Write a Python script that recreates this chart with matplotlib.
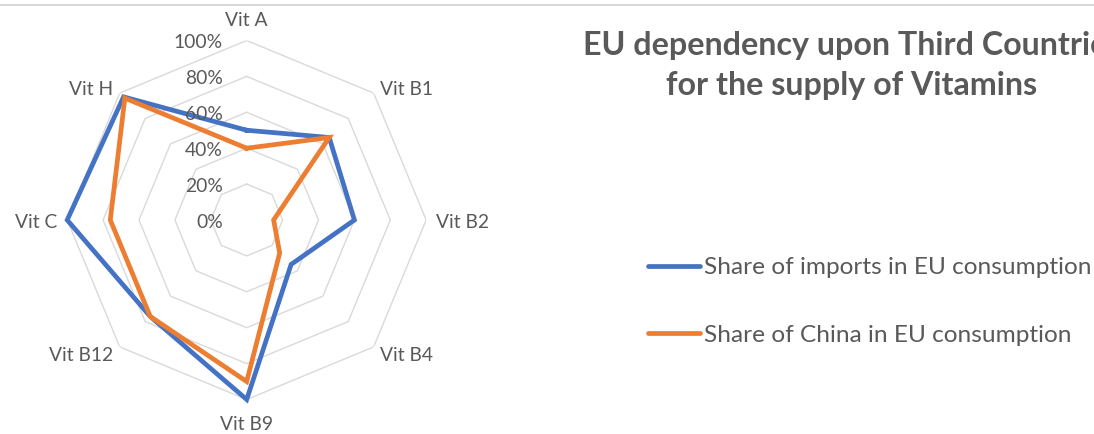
import numpy as np
import matplotlib
matplotlib.use('Agg')
import matplotlib.pyplot as plt
from matplotlib.lines import Line2D

# ---------------- data ----------------
categories = ["Vit A", "Vit B1", "Vit B2", "Vit B4", "Vit B9", "Vit B12", "Vit C", "Vit H"]
imports_share = [50, 65, 60, 35, 100, 76, 100, 97]
china_share = [40, 65, 15, 26, 90, 76, 76, 96]
series_names = ["Share of imports in EU consumption", "Share of China in EU consumption"]
radial_ticks = [0, 20, 40, 60, 80, 100]
radial_tick_labels = ["0%", "20%", "40%", "60%", "80%", "100%"]
title_lines = ["EU dependency upon Third Countries", "for the supply of Vitamins"]

# ---------------- style ----------------
W, H, DPI = 1094, 435, 100
FONT = ['Lato', 'DejaVu Sans']
GRAY = '#595959'
GRID = '#d9d9d9'
BLUE = '#4472C4'
ORANGE = '#ED7D31'
LW = 3.4

plt.rcParams['font.family'] = FONT
fig = plt.figure(figsize=(W / DPI, H / DPI), dpi=DPI)
fig.patch.set_facecolor('white')
renderer = fig.canvas.get_renderer()


def fy(y):
    return 1 - y / H


def fit(t, target):
    bb = t.get_window_extent(renderer)
    t.set_fontsize(t.get_fontsize() * target / bb.width)
    return t.get_fontsize()


# top border line
fig.add_artist(Line2D([0, 1], [fy(6)] * 2, color=GRID, lw=1.5))

# ---------------- radar ----------------
cx, cy, R = 246.7, 221.0, 179.5
ax = fig.add_axes([(cx - R) / W, fy(cy + R), 2 * R / W, 2 * R / H], projection='polar')
ax.set_theta_zero_location('N')
ax.set_theta_direction(-1)
ax.set_ylim(0, 100)
ax.grid(False)
ax.spines['polar'].set_visible(False)
ax.set_xticks([])
ax.set_yticks([])
ax.patch.set_alpha(0)

n = len(categories)
theta = np.linspace(0, 2 * np.pi, n, endpoint=False)
theta_c = np.append(theta, theta[0])


def closed(v):
    return list(v) + [v[0]]


for lvl in radial_ticks[1:]:
    ax.plot(theta_c, [lvl] * (n + 1), color=GRID, lw=1.0, zorder=1)

ax.plot(theta_c, closed(imports_share), color=BLUE, lw=LW,
        solid_joinstyle='miter', zorder=3, clip_on=False)
ax.plot(theta_c, closed(china_share), color=ORANGE, lw=LW,
        solid_joinstyle='miter', zorder=4, clip_on=False)

# radial tick labels
tick_txt = []
for v, lab in zip(radial_ticks, radial_tick_labels):
    t = ax.annotate(lab, xy=(0, v), xytext=(-24, -7), textcoords='offset pixels',
                    ha='right', va='baseline', color=GRAY, fontsize=15)
    tick_txt.append(t)
fs = fit(tick_txt[-1], 49)
for t in tick_txt:
    t.set_fontsize(fs)

# category labels
cat_style = [(0, 15.5, 'center'), (6.4, -1, 'left'), (9.5, -6.7, 'left'),
             (6.4, -12.8, 'left'), (0, -29.5, 'center'), (-7, -12.8, 'right'),
             (-9.5, -6.7, 'right'), (-7, -1, 'right')]
cat_txt = []
for th, lab, (dx, dy, ha) in zip(theta, categories, cat_style):
    t = ax.annotate(lab, xy=(th, 100), xytext=(dx, dy), textcoords='offset pixels',
                    ha=ha, va='baseline', color=GRAY, fontsize=15,
                    annotation_clip=False)
    cat_txt.append(t)
fs = fit(cat_txt[5], 64.3)
for t in cat_txt:
    t.set_fontsize(fs)

# ---------------- title ----------------
t1 = fig.text(852 / W, fy(55), title_lines[0], ha='center', va='baseline',
              color=GRAY, fontsize=20, fontweight='bold')
t2 = fig.text(852 / W, fy(95), title_lines[1], ha='center', va='baseline',
              color=GRAY, fontsize=20, fontweight='bold')
fs = fit(t2, 371)
t1.set_fontsize(fs)

# ---------------- legend ----------------
leg_lines_y = [266.7, 334.0]
leg_text_y = [274.0, 341.5]
leg_txt = []
for name, col, ly, ty in zip(series_names, [BLUE, ORANGE], leg_lines_y, leg_text_y):
    fig.add_artist(Line2D([648 / W, 700 / W], [fy(ly)] * 2, color=col, lw=LW,
                          solid_capstyle='round'))
    leg_txt.append(fig.text(704 / W, fy(ty), name, ha='left', va='baseline',
                            color=GRAY, fontsize=18))
fs = fit(leg_txt[0], 385)
for t in leg_txt:
    t.set_fontsize(fs)

fig.savefig('out.png', dpi=DPI, facecolor='white')
